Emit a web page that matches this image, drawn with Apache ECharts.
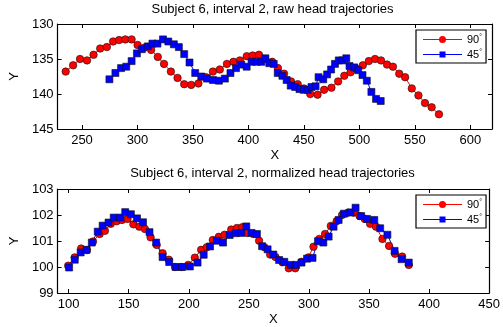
<!DOCTYPE html>
<html>
<head>
<meta charset="utf-8">
<script src="https://cdn.jsdelivr.net/npm/echarts@6/dist/echarts.min.js"></script>
<style>html,body{margin:0;padding:0;background:#fff}#c{width:503px;height:327px}</style>
</head>
<body>
<div id="c"></div>
<script>
// ---- Data ----
const rawX90 = [235.3,242.0,248.2,254.5,260.4,266.4,272.4,278.0,283.4,289.0,294.7,300.1,306.0,312.3,318.3,323.9,330.1,336.1,342.1,348.4,354.9,361.7,368.0,374.2,380.6,386.5,392.3,398.5,403.8,409.5,415.0,421.4,426.5,432.1,438.4,444.4,450.0,455.7,462.3,468.2,474.8,480.8,486.4,492.0,496.5,503.1,508.5,514.1,519.5,524.9,530.2,535.9,541.2,547.2,553.2,559.1,565.1,571.7];
const rawY90 = [136.8,135.9,135.0,135.2,134.4,133.5,133.3,132.5,132.3,132.2,132.2,133.0,133.4,133.7,134.7,135.7,136.8,137.7,138.6,138.7,138.5,137.6,136.8,136.5,135.7,135.4,135.2,134.6,134.5,134.4,135.0,135.4,136.3,137.1,138.2,138.6,139.2,140.0,140.1,139.4,139.1,138.2,137.4,136.9,136.3,135.9,135.3,135.0,135.2,135.8,136.1,137.1,137.6,139.2,140.2,141.3,141.9,142.9];
const rawX45 = [274.7,280.1,285.2,289.9,294.7,299.5,303.9,309.3,313.5,318.0,323.0,327.8,332.8,337.3,342.1,346.9,352.0,357.5,362.6,368.0,373.4,378.8,383.8,388.8,393.5,398.4,402.8,407.4,411.6,415.3,418.8,422.8,426.4,430.6,434.4,438.1,442.1,446.0,449.9,453.3,456.8,460.5,463.2,467.4,470.9,474.5,478.0,481.4,484.8,488.2,491.1,495.3,498.9,502.8,506.7,510.8,515.0,519.2];
const rawY45 = [137.9,137.0,136.3,136.1,135.3,134.2,133.6,133.2,132.8,132.8,132.2,132.5,132.9,133.3,134.3,135.5,137.0,137.5,137.8,138.0,138.1,137.8,137.0,136.3,135.8,136.1,135.4,135.4,135.4,134.9,135.6,135.7,137.0,137.4,138.0,138.8,139.0,139.3,139.4,139.4,139.0,138.9,137.6,137.9,137.2,136.5,135.7,135.2,135.2,134.9,136.0,136.2,136.6,137.3,138.1,139.7,140.7,141.0];

const normX90 = [99.6,105.0,110.4,115.3,120.3,125.8,130.2,135.1,140.0,144.4,149.0,153.9,158.8,163.5,168.2,173.3,178.2,183.4,188.6,194.0,199.5,205.0,210.3,215.0,220.0,225.0,229.8,235.3,240.1,244.5,248.5,253.7,258.5,262.9,267.7,272.2,278.0,283.2,288.6,293.8,299.5,303.8,308.6,313.4,318.2,323.0,327.6,332.5,337.2,342.1,346.5,350.9,355.8,361.2,366.7,371.6,377.6,383.1];
const normY90 = [100.05,100.37,100.71,100.65,100.98,101.27,101.39,101.66,101.76,101.81,101.85,101.64,101.55,101.46,101.14,100.85,100.53,100.28,100.0,100.0,100.08,100.36,100.66,100.76,101.04,101.16,101.24,101.44,101.50,101.53,101.31,101.27,101.01,100.76,100.48,100.38,100.18,99.95,99.95,100.2,100.37,100.78,101.08,101.27,101.58,101.76,102.0,102.09,102.09,101.96,101.85,101.66,101.55,101.08,100.81,100.51,100.40,100.08];
const normX45 = [100.4,105.1,110.0,114.9,119.3,124.2,128.3,133.2,137.5,142.8,147.1,151.8,156.9,161.9,167.3,172.8,178.2,183.7,189.1,194.6,200.9,207.3,212.4,217.7,223.3,228.5,234.0,239.0,243.7,247.9,252.2,256.7,261.0,265.6,270.4,275.2,279.5,284.8,289.4,293.8,298.4,303.0,307.5,312.0,316.4,320.5,324.7,329.1,334.7,338.8,343.5,348.4,354.4,359.3,365.3,371.3,377.1,383.1];
const normY45 = [99.98,100.28,100.56,100.66,100.94,101.36,101.59,101.71,101.90,101.90,102.11,102.03,101.87,101.72,101.34,100.94,100.38,100.19,100.0,100.0,100.02,100.17,100.47,100.79,101.01,100.94,101.23,101.30,101.31,101.56,101.31,101.27,100.80,100.68,100.48,100.27,100.20,100.08,100.08,100.17,100.32,100.35,100.99,100.94,101.17,101.55,101.81,102.05,102.10,102.28,101.96,101.85,101.81,101.49,101.24,100.62,100.30,100.17];

const seriesNames = ['90°', '45°'];
const seriesColors = ['#ff0000', '#0000ff'];
const titles = ['Subject 6, interval 2, raw head trajectories', 'Subject 6, interval 2, normalized head trajectories'];
const rawXTicks = [250, 300, 350, 400, 450, 500, 550, 600];
const rawYTicks = [130, 135, 140, 145];
const normXTicks = [100, 150, 200, 250, 300, 350, 400, 450];
const normYTicks = [99, 100, 101, 102, 103];

// ---- Chart ----
const FONT = 'Liberation Sans, Arial, Helvetica, sans-serif';
const zip = (xs, ys) => xs.map((x, i) => [x, ys[i]]);
// legend icons: thin line with marker in the middle (39 x 7 box)
const legendIcons = [
  'path://M0,3 L39,3 L39,4 L0,4 Z M23,3.5 A3.5,3.5 0 1 1 16,3.5 A3.5,3.5 0 1 1 23,3.5 Z',
  'path://M0,3 L39,3 L39,4 L0,4 Z M16.5,0.5 L22.5,0.5 L22.5,6.5 L16.5,6.5 Z'
];

function xAx(grid, min, max, ticks, pos, withLabels) {
  return {
    type: 'value', gridIndex: grid, position: pos, min: min, max: max,
    axisLine: { show: true, onZero: false, lineStyle: { color: '#000', width: 1.2 } },
    axisTick: { show: true, inside: true, length: 4, customValues: ticks, lineStyle: { color: '#000', width: 1 } },
    axisLabel: { show: withLabels, customValues: ticks, color: '#000', fontSize: 13, fontFamily: FONT, margin: 5 },
    splitLine: { show: false },
    name: withLabels ? 'X' : '', nameLocation: 'middle', nameGap: 20,
    nameTextStyle: { color: '#000', fontSize: 13, fontFamily: FONT }
  };
}
function yAx(grid, min, max, ticks, pos, withLabels, inverse) {
  return {
    type: 'value', gridIndex: grid, position: pos, min: min, max: max, inverse: !!inverse,
    axisLine: { show: true, onZero: false, lineStyle: { color: '#000', width: 1.2 } },
    axisTick: { show: true, inside: true, length: 4, customValues: ticks, lineStyle: { color: '#000', width: 1 } },
    axisLabel: { show: withLabels, customValues: ticks, color: '#000', fontSize: 13, fontFamily: FONT, margin: 4 },
    splitLine: { show: false },
    name: withLabels ? 'Y' : '', nameLocation: 'middle', nameGap: 33,
    nameTextStyle: { color: '#000', fontSize: 13, fontFamily: FONT }
  };
}
function legendAt(top) {
  return {
    orient: 'vertical', left: 416, top: top,
    data: seriesNames.map((n, i) => ({
      name: n, icon: legendIcons[i],
      itemStyle: { color: seriesColors[i] }
    })),
    itemStyle: { borderWidth: 0, borderColor: 'transparent' },
    borderColor: '#000', borderWidth: 1.2, backgroundColor: '#fff',
    padding: [4, 4, 3, 7], itemGap: 4, itemWidth: 39, itemHeight: 7,
    selectedMode: false,
    formatter: n => n.replace('°', '{d|°}'),
    textStyle: { color: '#000', fontSize: 11, fontFamily: FONT,
      rich: { d: { fontSize: 7, verticalAlign: 'top', fontFamily: FONT, color: '#000' } } }
  };
}
function ser(name, data, xi, yi, color, symbol) {
  return {
    name: name, type: 'line', xAxisIndex: xi, yAxisIndex: yi, data: data,
    symbol: symbol, symbolSize: symbol === 'circle' ? 7.5 : 7, showSymbol: true,
    lineStyle: { color: color, width: 1 },
    itemStyle: { color: color, borderColor: '#111', borderWidth: 0.6 },
    emphasis: { disabled: true }, animation: false
  };
}

const chart = echarts.init(document.getElementById('c'), null, { renderer: 'canvas' });
chart.setOption({
  backgroundColor: '#fff',
  animation: false,
  title: [
    { text: titles[0], left: 272.5, top: 3, textAlign: 'center', padding: 0,
      textStyle: { fontSize: 13, fontWeight: 'normal', color: '#000', fontFamily: FONT } },
    { text: titles[1], left: 272.5, top: 167, textAlign: 'center', padding: 0,
      textStyle: { fontSize: 13, fontWeight: 'normal', color: '#000', fontFamily: FONT } }
  ],
  grid: [
    { left: 53, top: 24, width: 439, height: 105 },
    { left: 53, top: 189, width: 439, height: 104 }
  ],
  xAxis: [
    xAx(0, 228, 619.5, rawXTicks, 'bottom', true),
    xAx(0, 228, 619.5, rawXTicks, 'top', false),
    xAx(1, 90.8, 450, normXTicks, 'bottom', true),
    xAx(1, 90.8, 450, normXTicks, 'top', false)
  ],
  yAxis: [
    yAx(0, 130, 145, rawYTicks, 'left', true, true),
    yAx(0, 130, 145, rawYTicks, 'right', false, true),
    yAx(1, 99, 103, normYTicks, 'left', true, false),
    yAx(1, 99, 103, normYTicks, 'right', false, false)
  ],
  legend: [legendAt(30), legendAt(195)],
  series: [
    ser(seriesNames[0], zip(rawX90, rawY90), 0, 0, seriesColors[0], 'circle'),
    ser(seriesNames[1], zip(rawX45, rawY45), 0, 0, seriesColors[1], 'rect'),
    ser(seriesNames[0], zip(normX90, normY90), 2, 2, seriesColors[0], 'circle'),
    ser(seriesNames[1], zip(normX45, normY45), 2, 2, seriesColors[1], 'rect')
  ]
});
</script>
</body>
</html>
